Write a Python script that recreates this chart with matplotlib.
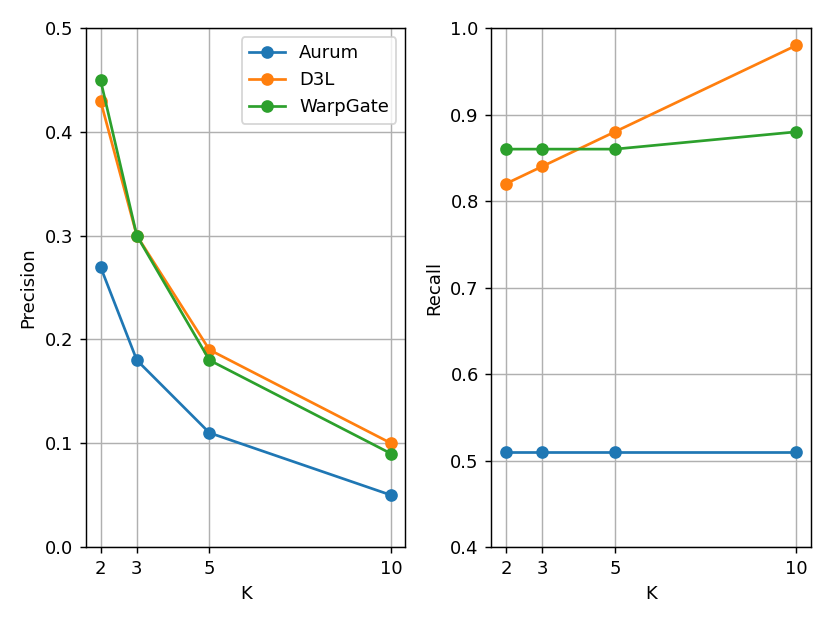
import matplotlib
matplotlib.use("Agg")
import matplotlib.pyplot as plt

k_values = [2, 3, 5, 10]

precision_aurum = [0.27, 0.18, 0.11, 0.05]
precision_d3l = [0.43, 0.30, 0.19, 0.10]
precision_warpgate = [0.45, 0.30, 0.18, 0.09]

recall_aurum = [0.51, 0.51, 0.51, 0.51]
recall_d3l = [0.82, 0.84, 0.88, 0.98]
recall_warpgate = [0.86, 0.86, 0.86, 0.88]

fig, (ax1, ax2) = plt.subplots(1, 2, figsize=(830 / 130, 623 / 130), dpi=130)
fig.subplots_adjust(left=0.1036, right=0.977, top=0.955, bottom=0.122, wspace=0.269)

ax1.plot(k_values, precision_aurum, marker='o', label='Aurum')
ax1.plot(k_values, precision_d3l, marker='o', label='D3L')
ax1.plot(k_values, precision_warpgate, marker='o', label='WarpGate')
ax1.set_ylim(0, 0.5)
ax1.set_xticks(k_values)
ax1.set_xlabel('K')
ax1.set_ylabel('Precision')
ax1.grid(True)
ax1.legend(loc='upper right')

ax2.plot(k_values, recall_aurum, marker='o')
ax2.plot(k_values, recall_d3l, marker='o')
ax2.plot(k_values, recall_warpgate, marker='o')
ax2.set_ylim(0.4, 1.0)
ax2.set_xticks(k_values)
ax2.set_xlabel('K')
ax2.set_ylabel('Recall')
ax2.grid(True)

fig.savefig('out.png')
